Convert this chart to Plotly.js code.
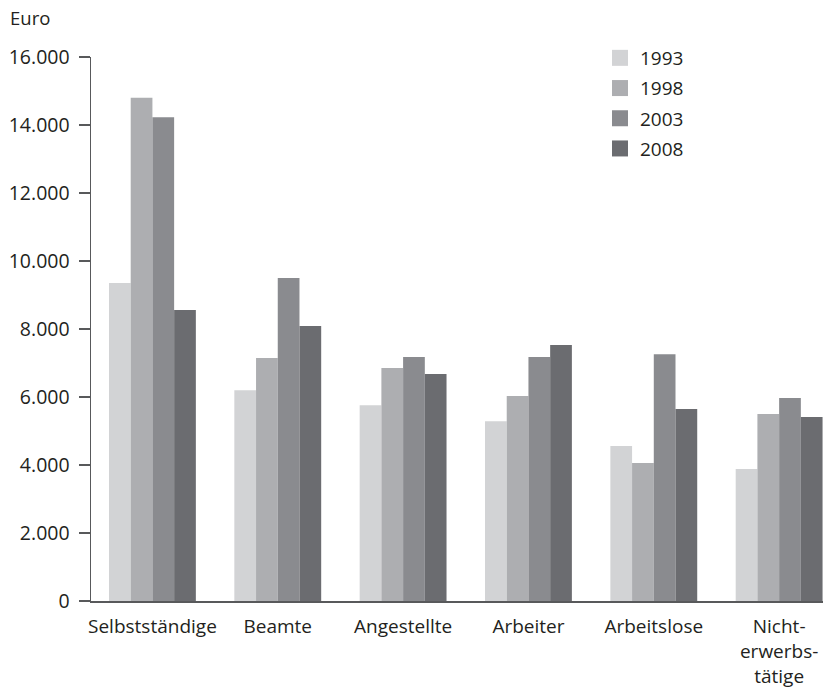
<!DOCTYPE html>
<html><head><meta charset="utf-8">
<script src="https://cdn.plot.ly/plotly-3.0.1.min.js"></script>
<style>body{margin:0;background:#fff}#c{width:823px;height:688px}</style>
</head><body><div id="c"></div>
<script>
const categories = ["Selbstständige","Beamte","Angestellte","Arbeiter","Arbeitslose","Nicht-<br>erwerbs-<br>tätige"];
const years = ["1993","1998","2003","2008"];
const v1993 = [9350, 6200, 5760, 5290, 4560, 3880];
const v1998 = [14800, 7150, 6850, 6030, 4060, 5500];
const v2003 = [14230, 9500, 7180, 7180, 7260, 5970];
const v2008 = [8560, 8090, 6680, 7530, 5650, 5410];
const colors = ["#d2d3d5","#adaeb1","#8a8b8f","#6b6c70"];
const tickVals = [0,2000,4000,6000,8000,10000,12000,14000,16000];
const tickText = ["0","2.000","4.000","6.000","8.000","10.000","12.000","14.000","16.000"];

const series = [v1993, v1998, v2003, v2008];
const bars = series.map((vals, i) => ({
  type: "bar", name: years[i], x: categories, y: vals, showlegend: false,
  marker: {color: colors[i], line: {width: 0}}, hoverinfo: "none"
}));
// legend entries with larger square swatches
const legendItems = years.map((yr, i) => ({
  type: "scatter", mode: "markers", name: yr, legendgroup: "g" + i, x: [null], y: [null],
  marker: {symbol: "square", size: 16, color: colors[i], line: {width: 0}}, hoverinfo: "none"
}));
const font = "Open Sans, Noto Sans, sans-serif";
const txt = "#231f20";
Plotly.newPlot("c", bars.concat(legendItems), {
  width: 823, height: 688,
  margin: {l: 91, r: 0, t: 57, b: 87},
  paper_bgcolor: "#fff", plot_bgcolor: "#fff",
  font: {family: font, size: 19, color: txt},
  barmode: "group", bargap: 0.307, bargroupgap: 0,
  xaxis: {range: [-0.49, 5.35], showgrid: false, zeroline: false,
    showline: true, linecolor: "#58595b", linewidth: 1.5,
    ticks: "", ticklabelstandoff: 8, tickfont: {size: 19, family: font, color: txt}},
  yaxis: {range: [0, 16000], tickvals: tickVals, ticktext: tickText,
    showgrid: false, zeroline: false, showline: true, linecolor: "#58595b", linewidth: 1.5,
    ticks: "outside", ticklen: 11, tickcolor: "#58595b", tickwidth: 1.5,
    ticklabelstandoff: 5, tickfont: {size: 19.5, family: font, color: txt}},
  legend: {x: (600-91)/732, y: 1 + 18/544, xanchor: "left", yanchor: "top", bgcolor: "rgba(0,0,0,0)",
    font: {size: 19, family: font, color: txt}, tracegroupgap: 2.5, itemwidth: 30, itemsizing: "trace"},
  annotations: [{text: "Euro", xref: "paper", yref: "paper", x: -83/732, y: 1 + 39/544,
    xanchor: "left", yanchor: "middle", showarrow: false, font: {size: 18.5, family: font, color: txt}}]
}, {displayModeBar: false, staticPlot: true});
</script></body></html>
